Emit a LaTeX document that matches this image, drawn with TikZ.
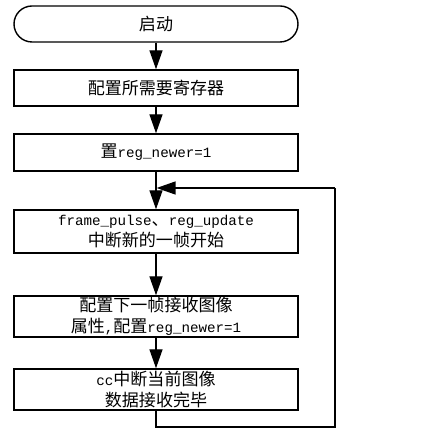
\documentclass[tikz,border=0pt]{standalone}
\usepackage{fontspec}
\setmainfont{Liberation Mono}
\newfontfamily\cjk{Noto Sans CJK SC}[Scale=1.2]
\usetikzlibrary{arrows.meta}
\newcommand\zh[1]{{\cjk #1}}
\begin{document}
\begin{tikzpicture}[
  every node/.style={font=\fontsize{14.2}{20.5}\selectfont, align=center, inner sep=0pt},
  stepbox/.style={draw, line width=1.4pt, minimum width=284pt},
  link/.style={line width=1.4pt, -{Triangle[length=19pt,width=13pt]}},
  wire/.style={line width=1.4pt}]
\useasboundingbox (0pt,0pt) rectangle (440pt,-438pt);
\node[stepbox, rounded corners=18pt, minimum height=36pt] (s) at (156pt,-24pt) {\zh{启动}};
\node[stepbox, minimum height=36pt] (b1) at (156pt,-88pt) {\zh{配置所需要寄存器}};
\node[stepbox, minimum height=37pt] (b2) at (156pt,-152.5pt) {\zh{置}reg\_newer=1};
\node[stepbox, minimum height=43pt] (b3) at (156pt,-231.5pt) {frame\_pulse\zh{、}reg\_update\\\zh{中断新的一帧开始}};
\node[stepbox, minimum height=41pt] (b4) at (156pt,-316.5pt) {\zh{配置下一帧接收图像}\\\zh{属性},\zh{配置}reg\_newer=1};
\node[stepbox, minimum height=41pt] (b5) at (156pt,-389.5pt) {cc\zh{中断当前图像}\\\zh{数据接收完毕}};
\draw[link] (s) -- (b1);
\draw[link] (b1) -- (b2);
\draw[link] (b2) -- (b3);
\draw[link] (b3) -- (b4);
\draw[link] (b4) -- (b5);
\coordinate (lb) at (156pt,-427pt);
\coordinate (rb) at (335pt,-427pt);
\coordinate (rt) at (335pt,-188pt);
\coordinate (jn) at (156.6pt,-188pt);
\draw[wire] (b5.south) -- (lb) -- (rb) -- (rt);
\draw[link] (rt) -- (jn);
\end{tikzpicture}
\end{document}
